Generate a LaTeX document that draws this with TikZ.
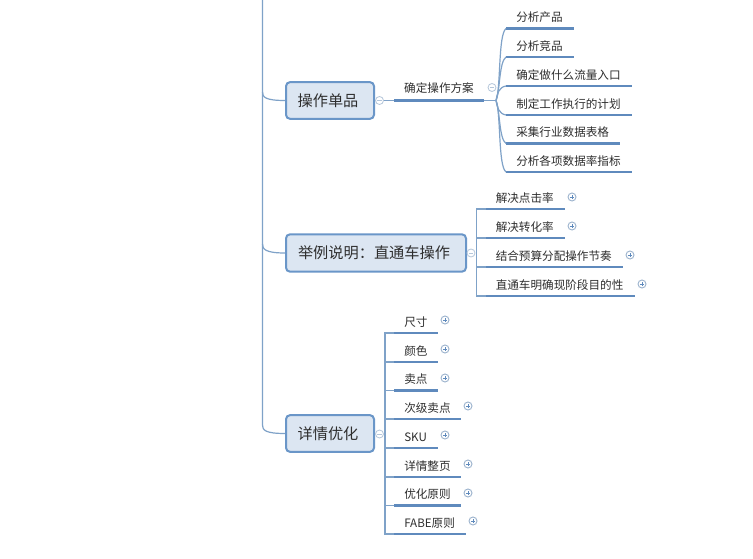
\documentclass[tikz,border=0pt]{standalone}
\usepackage{fontspec}
\setmainfont{Noto Sans CJK SC}
\definecolor{trunk}{HTML}{7FA2C8}
\definecolor{under}{HTML}{5F8ABD}
\definecolor{boxfill}{HTML}{DCE6F2}
\definecolor{boxline}{HTML}{6A96C8}
\definecolor{ink}{HTML}{2E2E2E}
\definecolor{iconline}{HTML}{B4C6DA}
\definecolor{plusline}{HTML}{9DB4CE}
\tikzset{
  topicbox/.style={draw=boxline,line width=1.5pt,fill=boxfill,rounded corners=3pt,text=ink,
    inner sep=0pt,font=\fontsize{11.4}{13}\selectfont},
  subtext/.style={anchor=west,inner sep=0pt,text=ink,font=\fontsize{8.7}{10}\selectfont},
  trunkline/.style={draw=trunk,line width=0.9pt},
  underline/.style={draw=under,line width=2.1pt},
  iconbase/.style={circle,inner sep=0pt,minimum size=6pt,fill=white},
  minusicon/.style={iconbase,draw=iconline,line width=0.6pt,
    path picture={\draw[iconline,line width=0.6pt] ([xshift=-1.6pt]path picture bounding box.center)--([xshift=1.6pt]path picture bounding box.center);}},
  plusicon/.style={iconbase,draw=plusline,line width=0.7pt,
    path picture={\draw[under,line width=0.7pt] ([xshift=-1.6pt]path picture bounding box.center)--([xshift=1.6pt]path picture bounding box.center)
      ([yshift=-1.6pt]path picture bounding box.center)--([yshift=1.6pt]path picture bounding box.center);}},
}
% name, line start x, line end x, line y, text x, text
\newcommand{\leafitem}[6]{%
  \coordinate (#1s) at (#2,#4);
  \coordinate (#1e) at (#3,#4);
  \node[subtext] (#1) at (#5,#4-11) {#6};
  \draw[underline] (#1s) -- (#1e);
}
\newcommand{\plusat}[3]{\node[plusicon] (#1) at (#2,#3) {};}
\begin{document}
\begin{tikzpicture}[x=0.75pt,y=-0.75pt]
\useasboundingbox (0,0) rectangle (753,559);
\fill[white] (0,0) rectangle (753,559);

% main trunk
\coordinate (top) at (262.5,0);
\coordinate (j3) at (262.5,425);
\node[topicbox,minimum width=66pt,minimum height=27.5pt] (t1) at (330,100.5) {操作单品\hspace*{3pt}};
\node[topicbox,minimum width=135pt,minimum height=28pt] (t2) at (376,253) {举例说明：直通车操作\hspace*{3pt}};
\node[topicbox,minimum width=66pt,minimum height=27.5pt] (t3) at (330,433.5) {详情优化\hspace*{3pt}};
\draw[trunkline] (top) -- (j3) .. controls (262.5,430) and (265,433.5) .. (t3.west);
\draw[trunkline] (262.5,92) .. controls (262.5,97) and (265,100.5) .. (t1.west);
\draw[trunkline] (262.5,244) .. controls (262.5,249) and (265,253) .. (t2.west);

% group 1
\node[minusicon] (c1) at (379.5,100.5) {};
\node[subtext,anchor=center] (m1) at (439,88.5) {确定操作方案};
\coordinate (m1s) at (394,100.5);
\coordinate (m1e) at (484,100.5);
\draw[trunkline] (c1) -- (m1s);
\draw[underline] (m1s) -- (m1e);
\node[minusicon] (c1b) at (492,87.5) {};
\leafitem{a1}{506}{574}{28.5}{516}{分析产品}
\leafitem{a2}{506}{574}{57}{516}{分析竞品}
\leafitem{a3}{506}{632}{86}{516}{确定做什么流量入口}
\leafitem{a4}{506}{632}{115}{516}{制定工作执行的计划}
\leafitem{a5}{506}{620}{143.5}{516}{采集行业数据表格}
\leafitem{a6}{506}{632}{172}{516}{分析各项数据率指标}
\coordinate (h1) at (496,100.5);
\draw[trunkline] (m1e) -- (h1);
\draw[trunkline] (h1) .. controls (501,88) and (498,35) .. (a1s);
\draw[trunkline] (h1) .. controls (500,92) and (499,62) .. (a2s);
\draw[trunkline] (h1) .. controls (497,94) and (499,87) .. (a3s);
\draw[trunkline] (h1) .. controls (497,107) and (499,114) .. (a4s);
\draw[trunkline] (h1) .. controls (500,110) and (499,139) .. (a5s);
\draw[trunkline] (h1) .. controls (501,113) and (498,166) .. (a6s);

% group 2
\node[minusicon] (c2) at (471,253) {};
\coordinate (h2t) at (476.5,209);
\coordinate (h2b) at (476.5,296);
\leafitem{b1}{485.5}{564.5}{209}{495.5}{解决点击率}
\leafitem{b2}{485.5}{564.5}{238}{495.5}{解决转化率}
\leafitem{b3}{485.5}{623}{267}{495.5}{结合预算分配操作节奏}
\leafitem{b4}{485.5}{635}{296}{495.5}{直通车明确现阶段目的性}
\draw[trunkline] (b1s) -- (h2t) -- (h2b) -- (b4s);
\draw[trunkline] (476.5,238) -- (b2s);
\draw[trunkline] (476.5,267) -- (b3s);
\plusat{bp1}{572}{197}
\plusat{bp2}{572}{226}
\plusat{bp3}{630}{255}
\plusat{bp4}{642}{284}

% group 3
\node[minusicon] (c3) at (379.5,434) {};
\coordinate (h3t) at (385,333);
\coordinate (h3b) at (385,534);
\leafitem{d1}{394}{438}{333}{404}{尺寸}
\leafitem{d2}{394}{438}{362}{404}{颜色}
\leafitem{d3}{394}{438}{390.5}{404}{卖点}
\leafitem{d4}{394}{461}{419}{404}{次级卖点}
\leafitem{d5}{394}{438}{448}{404}{SKU}
\leafitem{d6}{394}{461}{477}{404}{详情整页}
\leafitem{d7}{394}{461}{505.5}{404}{优化原则}
\leafitem{d8}{394}{466}{534}{404}{FABE原则}
\draw[trunkline] (d1s) -- (h3t) -- (h3b) -- (d8s);
\foreach \yy/\nn in {362/d2,390.5/d3,419/d4,448/d5,477/d6,505.5/d7}{
  \draw[trunkline] (385,\yy) -- (\nn s);
}
\plusat{dp1}{445}{320}
\plusat{dp2}{445}{349}
\plusat{dp3}{445}{378}
\plusat{dp4}{468}{406}
\plusat{dp5}{445}{435}
\plusat{dp6}{468}{464}
\plusat{dp7}{468}{493}
\plusat{dp8}{473}{521}
\end{tikzpicture}
\end{document}
